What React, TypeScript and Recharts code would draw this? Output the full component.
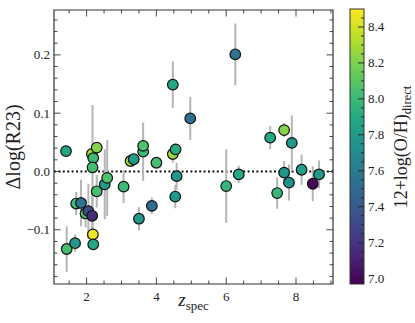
import React from 'react';
import { ScatterChart, Scatter, XAxis, YAxis, ReferenceLine, ReferenceArea, ErrorBar } from 'recharts';

// ---- data ----
const zSpec = [
  1.41, 1.43, 1.67, 1.70, 1.84, 1.97, 2.05, 2.16, 2.18, 2.19,
  2.15, 2.19, 2.17, 2.29, 2.29, 2.52, 2.59, 3.06, 3.26, 3.35,
  3.50, 3.62, 3.62, 3.87, 4.00, 4.47, 4.47, 4.55, 4.58, 4.54,
  4.97, 6.26, 6.00, 6.36, 7.26, 7.66, 7.88, 7.66, 7.46, 7.80,
  8.16, 8.48, 8.66,
];
const deltaLogR23 = [
  0.035, -0.133, -0.123, -0.055, -0.054, -0.072, -0.068, -0.076, -0.108, -0.125,
  0.030, 0.023, 0.007, 0.041, -0.034, -0.022, -0.011, -0.026, 0.018, 0.021,
  -0.081, 0.034, 0.044, -0.059, 0.015, 0.149, 0.030, 0.038, -0.008, -0.043,
  0.091, 0.201, -0.025, -0.005, 0.058, 0.071, 0.049, -0.002, -0.037, -0.019,
  0.003, -0.021, -0.005,
];
const deltaErr = [
  0.008, 0.039, 0.015, 0.020, 0.040, 0.024, 0.047, 0.050, 0.012, 0.010,
  0.010, 0.012, 0.107, 0.008, 0.028, 0.060, 0.065, 0.028, 0.006, 0.006,
  0.020, 0.050, 0.010, 0.014, 0.008, 0.040, 0.015, 0.010, 0.023, 0.020,
  0.037, 0.053, 0.063, 0.015, 0.020, 0.012, 0.047, 0.020, 0.027, 0.031,
  0.026, 0.030, 0.024,
];
const metallicity = [
  7.86, 8.04, 7.77, 8.01, 7.55, 8.07, 7.32, 7.15, 8.47, 7.89,
  8.30, 8.01, 8.04, 8.22, 8.04, 7.81, 8.07, 8.01, 8.27, 7.81,
  7.78, 8.01, 8.07, 7.51, 8.04, 7.89, 8.27, 7.92, 7.77, 7.78,
  7.54, 7.55, 7.98, 7.89, 7.89, 8.22, 7.77, 7.77, 7.98, 7.74,
  7.83, 7.00, 7.78,
];

const xTicks = [1.5, 2, 2.5, 3, 3.5, 4, 4.5, 5, 5.5, 6, 6.5, 7, 7.5, 8, 8.5, 9];
const xMajor = [2, 4, 6, 8];
const yTicks = [-0.18, -0.16, -0.14, -0.12, -0.1, -0.08, -0.06, -0.04, -0.02, 0, 0.02, 0.04, 0.06, 0.08, 0.1, 0.12, 0.14, 0.16, 0.18, 0.2, 0.22, 0.24, 0.26];
const yMajor = [-0.1, 0, 0.1, 0.2];
const cbarMajor = [7.0, 7.2, 7.4, 7.6, 7.8, 8.0, 8.2, 8.4];
const cbarMinor = [7.05, 7.1, 7.15, 7.25, 7.3, 7.35, 7.45, 7.5, 7.55, 7.65, 7.7, 7.75, 7.85, 7.9, 7.95, 8.05, 8.1, 8.15, 8.25, 8.3, 8.35, 8.45];

const X_DOMAIN: [number, number] = [1.066, 9.06];
const Y_DOMAIN: [number, number] = [-0.193, 0.277];
const C_DOMAIN: [number, number] = [6.97, 8.5];

const VIRIDIS = ['#440154', '#482475', '#414487', '#355f8d', '#2a788e', '#21918c', '#22a884', '#44bf70', '#7ad151', '#bddf26', '#fde725'];

// ---- layout ----
const W = 415, H = 323;
const PL = 54, PT = 10, PR = 333, PB = 284;
const CB_X = 350, CB_W = 14, CB_TOP = 9, CB_BOT = 284;
const FONT = '"Liberation Serif", "Times New Roman", serif';
const INK = '#222';

const hexToRgb = (h: string) => [1, 3, 5].map((i) => parseInt(h.slice(i, i + 2), 16));
const viridis = (v: number) => {
  let t = (v - C_DOMAIN[0]) / (C_DOMAIN[1] - C_DOMAIN[0]);
  t = Math.max(0, Math.min(1, t));
  const s = t * (VIRIDIS.length - 1);
  const i = Math.min(VIRIDIS.length - 2, Math.floor(s));
  const f = s - i;
  const a = hexToRgb(VIRIDIS[i]), b = hexToRgb(VIRIDIS[i + 1]);
  const c = a.map((av, k) => Math.round(av + (b[k] - av) * f));
  return `rgb(${c[0]},${c[1]},${c[2]})`;
};

const data = zSpec.map((z, i) => ({ z, d: deltaLogR23[i], err: deltaErr[i], metal: metallicity[i] }));

const near = (a: number, b: number) => Math.abs(a - b) < 1e-6;

const XTick = (p: any) => {
  const v = p.payload.value;
  const x = p.x;
  const major = xMajor.some((m) => near(m, v));
  const len = major ? 6.5 : 3.5;
  return (
    <g>
      <line x1={x} x2={x} y1={PB} y2={PB - len} stroke="#333" strokeWidth={0.9} />
      <line x1={x} x2={x} y1={PT} y2={PT + len} stroke="#333" strokeWidth={0.9} />
      {major && (
        <text x={x} y={301} textAnchor="middle" fontFamily={FONT} fontSize={13} fill={INK}>
          {String(v)}
        </text>
      )}
    </g>
  );
};

const YTick = (p: any) => {
  const v = p.payload.value;
  const y = p.y;
  const major = yMajor.some((m) => near(m, v));
  const len = major ? 6.5 : 3.5;
  const label = (v < 0 ? '\u2212' : '') + Math.abs(v).toFixed(1);
  return (
    <g>
      <line x1={PL} x2={PL + len} y1={y} y2={y} stroke="#333" strokeWidth={0.9} />
      <line x1={PR} x2={PR - len} y1={y} y2={y} stroke="#333" strokeWidth={0.9} />
      {major && (
        <text x={50} y={y + 4.5} textAnchor="end" fontFamily={FONT} fontSize={13} fill={INK}>
          {label}
        </text>
      )}
    </g>
  );
};

const Dot = (p: any) => (
  <circle cx={p.cx} cy={p.cy} r={5.3} fill={viridis(p.payload.metal)} stroke="#111" strokeWidth={1.2} />
);

const XLabel = (p: any) => {
  const vb = p.viewBox || { x: PL, width: PR - PL };
  const cx = vb.x + vb.width / 2;
  return (
    <text x={cx} y={306} textAnchor="middle" fontFamily={FONT} fill={INK}>
      <tspan fontSize={19} fontStyle="italic">z</tspan>
      <tspan fontSize={13} dy={4}>spec</tspan>
    </text>
  );
};

const YLabel = (p: any) => {
  const vb = p.viewBox || { y: PT, height: PB - PT };
  const cy = vb.y + vb.height / 2;
  return (
    <text x={20} y={cy} transform={`rotate(-90 20 ${cy})`} textAnchor="middle" fontFamily={FONT} fontSize={20} fill={INK}>
      Δlog(R23)
    </text>
  );
};

const cbY = (v: number) => CB_BOT - ((v - C_DOMAIN[0]) / (C_DOMAIN[1] - C_DOMAIN[0])) * (CB_BOT - CB_TOP);

const ColorBar = () => (
  <svg width={W} height={H} style={{ position: 'absolute', left: 0, top: 0, pointerEvents: 'none' }}>
    <defs>
      <linearGradient id="vir" x1="0" y1="1" x2="0" y2="0">
        {VIRIDIS.map((c, i) => (
          <stop key={i} offset={i / (VIRIDIS.length - 1)} stopColor={c} />
        ))}
      </linearGradient>
    </defs>
    <rect x={CB_X} y={CB_TOP} width={CB_W} height={CB_BOT - CB_TOP} fill="url(#vir)" stroke="#333" strokeWidth={1} />
    {cbarMinor.map((v) => (
      <line key={'m' + v} x1={CB_X + CB_W} x2={CB_X + CB_W - 3} y1={cbY(v)} y2={cbY(v)} stroke="#222" strokeWidth={0.9} />
    ))}
    {cbarMajor.map((v) => (
      <g key={'M' + v}>
        <line x1={CB_X + CB_W} x2={CB_X + CB_W - 6} y1={cbY(v)} y2={cbY(v)} stroke="#222" strokeWidth={0.9} />
        <text x={CB_X + CB_W + 4} y={cbY(v) + 4.5} fontFamily={FONT} fontSize={13} fill={INK}>
          {v.toFixed(1)}
        </text>
      </g>
    ))}
    <text x={407} y={147} transform="rotate(-90 407 147)" textAnchor="middle" fontFamily={FONT} fill={INK}>
      <tspan fontSize={18}>12+log(O/H)</tspan>
      <tspan fontSize={12.5} dy={4}>direct</tspan>
    </text>
  </svg>
);

export default function App() {
  return (
    <div style={{ position: 'absolute', left: 0, top: 0, width: W, height: H, background: '#fff' }}>
      <ScatterChart width={W} height={H} margin={{ top: PT, right: W - PR, bottom: 0, left: 0 }}>
        <XAxis
          type="number"
          dataKey="z"
          domain={X_DOMAIN}
          ticks={xTicks}
          interval={0}
          allowDataOverflow
          axisLine={false}
          tickLine={false}
          height={H - PB}
          tick={(p: any) => <XTick {...p} />}
          label={(p: any) => <XLabel {...p} />}
        />
        <YAxis
          type="number"
          dataKey="d"
          domain={Y_DOMAIN}
          ticks={yTicks}
          interval={0}
          allowDataOverflow
          axisLine={false}
          tickLine={false}
          width={PL}
          tick={(p: any) => <YTick {...p} />}
          label={(p: any) => <YLabel {...p} />}
        />
        <ReferenceLine y={0} stroke="#111" strokeWidth={2} strokeDasharray="2 2.4" />
        <Scatter data={data} isAnimationActive={false} shape={(p: any) => <Dot {...p} />}>
          <ErrorBar dataKey="err" direction="y" width={0} stroke="#b5b5b5" strokeWidth={2} />
        </Scatter>
        <ReferenceArea x1={X_DOMAIN[0]} x2={X_DOMAIN[1]} y1={Y_DOMAIN[0]} y2={Y_DOMAIN[1]} fill="none" stroke="#333" strokeWidth={1.2} fillOpacity={0} />
      </ScatterChart>
      <ColorBar />
    </div>
  );
}
